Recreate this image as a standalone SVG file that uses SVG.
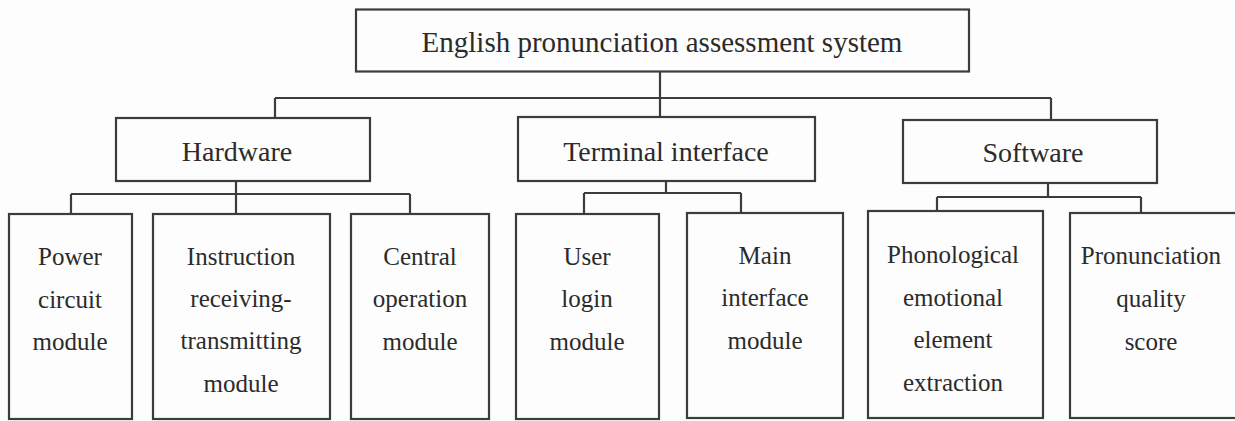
<svg xmlns="http://www.w3.org/2000/svg" width="1235" height="421" viewBox="0 0 1235 421">
<style>
.box{fill:none;stroke:#3c3c3c;stroke-width:2.2}
.ln{fill:none;stroke:#3c3c3c;stroke-width:2.2}
text{font-family:"Liberation Serif","Times New Roman",serif;fill:#2b2b2b;text-anchor:middle}
.t0{font-size:29px}
.t1{font-size:28px}
.t2{font-size:25px}
</style>
<rect x="0" y="0" width="1235" height="421" fill="#fdfdfd"/>
<g id="connectors">
<path class="ln" d="M660 71.5V98M275 98H1051M275 98V118M660 98V117M1051 98V120"/>
<path class="ln" d="M236 181V194M71 194H410M71 194V214M236 194V214M410 194V214"/>
<path class="ln" d="M666 181V193M584 193H741M584 193V214M741 193V213"/>
<path class="ln" d="M1048 183V197M937 197H1141M937 197V211M1141 197V213"/>
</g>
<g id="root">
<rect class="box" x="356" y="9.5" width="613" height="62"/>
<text class="t0" x="662" y="52">English pronunciation assessment system</text>
</g>
<g id="hardware">
<rect class="box" x="116" y="118" width="254" height="63"/>
<text class="t1" x="237" y="161">Hardware</text>
</g>
<g id="terminal">
<rect class="box" x="518" y="117" width="297" height="64"/>
<text class="t1" x="666" y="161">Terminal interface</text>
</g>
<g id="software">
<rect class="box" x="903" y="120" width="254" height="63"/>
<text class="t1" x="1033" y="162">Software</text>
</g>
<g id="power">
<rect class="box" x="9" y="214" width="123" height="205"/>
<text class="t2" x="70"><tspan x="70" y="265">Power</tspan><tspan x="70" y="308">circuit</tspan><tspan x="70" y="350">module</tspan></text>
</g>
<g id="instruction">
<rect class="box" x="153" y="214" width="177" height="205"/>
<text class="t2" x="241"><tspan x="241" y="265">Instruction</tspan><tspan x="241" y="307">receiving-</tspan><tspan x="241" y="349">transmitting</tspan><tspan x="241" y="392">module</tspan></text>
</g>
<g id="central">
<rect class="box" x="351" y="214" width="138" height="205"/>
<text class="t2" x="420"><tspan x="420" y="265">Central</tspan><tspan x="420" y="307">operation</tspan><tspan x="420" y="350">module</tspan></text>
</g>
<g id="user">
<rect class="box" x="516" y="214" width="143" height="205"/>
<text class="t2" x="587"><tspan x="587" y="265">User</tspan><tspan x="587" y="307">login</tspan><tspan x="587" y="350">module</tspan></text>
</g>
<g id="main">
<rect class="box" x="687" y="213" width="156" height="205"/>
<text class="t2" x="765"><tspan x="765" y="264">Main</tspan><tspan x="765" y="306">interface</tspan><tspan x="765" y="349">module</tspan></text>
</g>
<g id="phonological">
<rect class="box" x="868" y="211" width="175" height="207"/>
<text class="t2" x="953"><tspan x="953" y="263">Phonological</tspan><tspan x="953" y="306">emotional</tspan><tspan x="953" y="348">element</tspan><tspan x="953" y="391">extraction</tspan></text>
</g>
<g id="quality">
<rect class="box" x="1070" y="213" width="172" height="205"/>
<text class="t2" x="1151"><tspan x="1151" y="264">Pronunciation</tspan><tspan x="1151" y="307">quality</tspan><tspan x="1151" y="350">score</tspan></text>
</g>
</svg>
